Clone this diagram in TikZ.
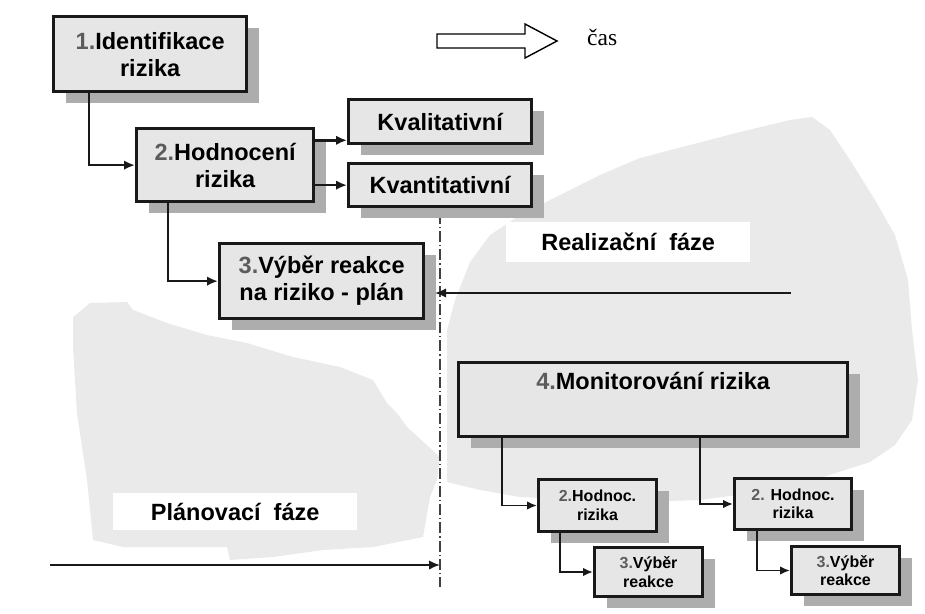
\documentclass[tikz,border=0pt]{standalone}
\usepackage{fontspec}
\setmainfont{Liberation Serif}
\setsansfont{Liberation Sans}
\usetikzlibrary{shadows,arrows.meta}

\definecolor{boxfill}{HTML}{E6E6E6}
\definecolor{shade}{HTML}{ADADAD}
\definecolor{phase}{HTML}{EAEAEA}
\definecolor{numgray}{HTML}{5C5C5C}
\newcommand{\nr}[1]{\textcolor{numgray}{#1}}

\begin{document}
\begin{tikzpicture}[x=1pt,y=-1pt,
  box/.style={draw=black!90, line width=3.3pt, fill=boxfill, anchor=north west,
    inner sep=0pt, align=center,
    font=\sffamily\bfseries\fontsize{23.5}{27}\selectfont,
    drop shadow={shadow xshift=12pt, shadow yshift=-11pt, fill=shade, opacity=1}},
  smallbox/.style={box, line width=3pt, font=\sffamily\bfseries\fontsize{16}{18.5}\selectfont},
  phaselabel/.style={fill=white, anchor=north west, inner sep=0pt,
    font=\sffamily\bfseries\fontsize{23.5}{27}\selectfont},
  conn/.style={draw=black!90, line width=2.4pt, -{Latex[length=11pt,width=9.5pt]}},
  subconn/.style={draw=black!90, line width=1.8pt, -{Latex[length=10pt,width=8.5pt]}},
  divider/.style={draw=black!75, line width=1.5pt,
    dash pattern=on 11pt off 3pt on 1.2pt off 3pt},
  phasearea/.style={fill=phase, draw=none}
]
\useasboundingbox (0,0) rectangle (925,613);

% grey areas of the two phases
\path[phasearea] (73,317) -- (90,303) -- (127,302) -- (133,310) -- (167,323)
  -- (207,335) -- (247,343) -- (293,357) -- (340,367) -- (373,380)
  -- (387,403) -- (397,413) -- (407,427) -- (440,457) -- (437,480)
  -- (430,497) -- (423,537) -- (373,547) -- (323,550) -- (273,557)
  -- (230,560) -- (227,547) -- (123,547) -- (93,540) -- (87,480)
  -- (77,413) -- (73,347) -- cycle;
\path[phasearea] (447,482) -- (447,330) -- (455,300) -- (470,262) -- (490,235)
  -- (520,215) -- (560,195) -- (600,175) -- (640,158) -- (690,145)
  -- (740,132) -- (790,120) -- (812,117) -- (830,130) -- (850,160)
  -- (875,200) -- (895,235) -- (908,280) -- (912,330) -- (918,380)
  -- (912,420) -- (895,445) -- (870,462) -- (820,478) -- (760,492)
  -- (700,500) -- (640,502) -- (580,500) -- (520,497) -- (480,490) -- cycle;

% phase labels
\node[phaselabel, minimum width=244pt, minimum height=40pt] (real) at (506,222) {Realizační\ \ fáze};
\node[phaselabel, minimum width=244pt, minimum height=37pt] (plan) at (113,493) {Plánovací\ \ fáze};

% time arrow
\draw[line width=1.4pt, fill=white, line join=miter] (437,34) -- (525,34) -- (525,24)
  -- (557,41) -- (525,58) -- (525,48) -- (437,48) -- cycle;
\node[anchor=base west, inner sep=0pt, font=\rmfamily\fontsize{23.5}{28}\selectfont] (cas) at (587,45) {čas};

% boundary between planning and realisation
\coordinate (divtop) at (440,213);
\coordinate (divbot) at (440,587);
\draw[divider] (divtop) -- (divbot);

% planning phase
\node[box, minimum width=193pt, minimum height=75pt] (ident) at (52,15) {\nr{1.}Identifikace\\rizika};
\node[box, minimum width=177pt, minimum height=73pt] (hod) at (135,127) {\nr{2.}Hodnocení\\rizika};
\node[box, minimum width=183pt, minimum height=44pt] (kval) at (347,98) {Kvalitativní};
\node[box, minimum width=183pt, minimum height=43pt] (kvant) at (347,162) {Kvantitativní};
\node[box, minimum width=204pt, minimum height=75pt] (vyber) at (218,242) {\nr{3.}Výběr reakce\\na riziko - plán};

% realisation phase
\node[box, minimum width=389pt, minimum height=74pt, inner ysep=9pt,
  text height=18pt, text depth=38pt] (mon) at (457,361) {\nr{4.}Monitorování rizika};
\node[smallbox, minimum width=118pt, minimum height=52pt] (hodA) at (537,478) {\nr{2.}Hodnoc.\\rizika};
\node[smallbox, minimum width=117pt, minimum height=51pt] (hodB) at (733,477) {\nr{2.} Hodnoc.\\rizika};
\node[smallbox, minimum width=108pt, minimum height=49pt] (vybA) at (593,546) {\nr{3.}Výběr\\reakce};
\node[smallbox, minimum width=108pt, minimum height=48pt] (vybB) at (790,545) {\nr{3.}Výběr\\reakce};

% connectors, planning phase
\coordinate (c1) at ([xshift=-46pt]hod.west);
\draw[conn] (c1 |- ident.south) |- (hod.west);
\coordinate (c2) at ([xshift=-50pt]vyber.west);
\draw[conn] (c2 |- hod.south) |- (vyber.west);
\coordinate (kvalin) at ([yshift=5pt]kval.south west);
\draw[conn] (hod.east |- kvalin) -- (kvalin);
\draw[conn] (hod.east |- kvant.west) -- (kvant.west);

% connectors, realisation phase
\coordinate (c3) at ([xshift=-35pt]hodA.west);
\draw[subconn] (c3 |- mon.south) |- (hodA.west);
\coordinate (c4) at ([xshift=-33pt]hodB.west);
\draw[subconn] (c4 |- mon.south) |- (hodB.west);
\coordinate (c5) at ([xshift=-33pt]vybA.west);
\draw[subconn] (c5 |- hodA.south) |- (vybA.west);
\coordinate (c6) at ([xshift=-33pt]vybB.west);
\draw[subconn] (c6 |- hodB.south) |- (vybB.west);

% feedback and time flow arrows
\coordinate (realstart) at (791,293);
\draw[conn, line width=2pt, shorten >=-5pt] (realstart) -- (realstart -| divtop);
\coordinate (planstart) at (50,565);
\draw[conn, line width=2pt] (planstart) -- (planstart -| divtop);
\end{tikzpicture}
\end{document}
